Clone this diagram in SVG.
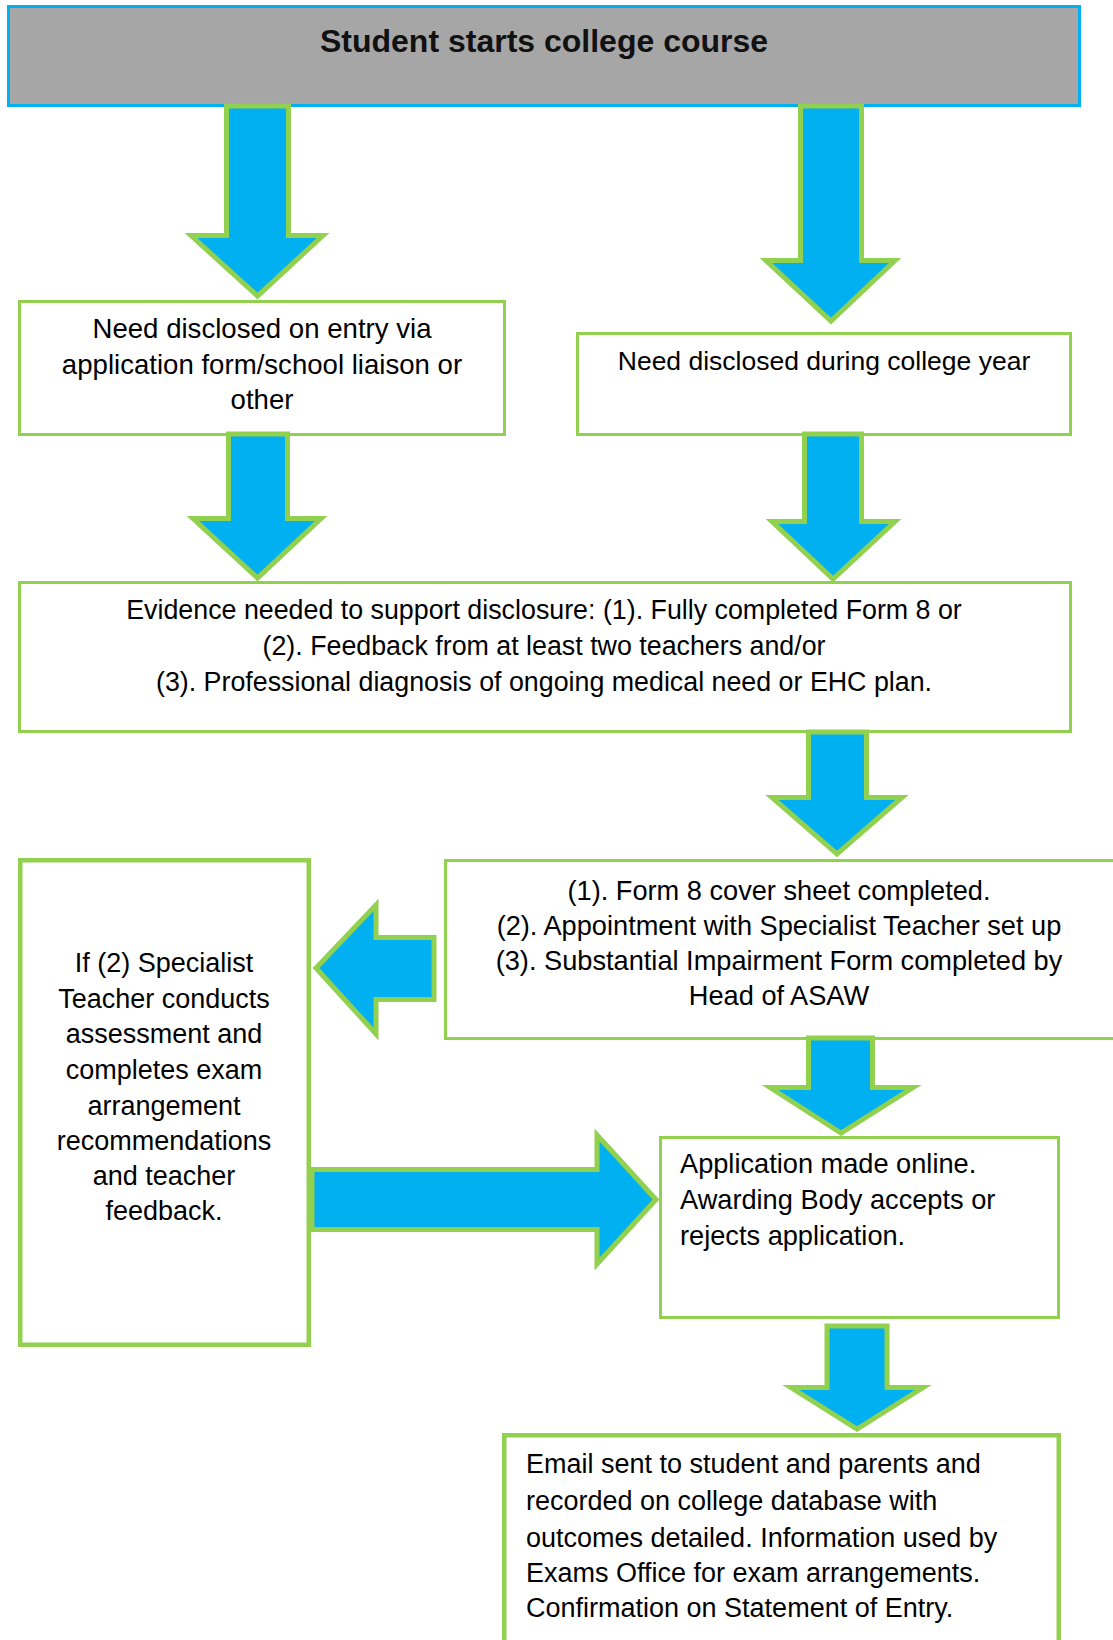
<svg xmlns="http://www.w3.org/2000/svg" width="1113" height="1640" viewBox="0 0 1113 1640">
<style>
.box{fill:#ffffff;stroke:#92D050;stroke-width:3}
.thick{stroke-width:4.5}
.arr{fill:#00B0F0;stroke:#92D050;stroke-width:5;stroke-linejoin:miter;stroke-miterlimit:10}
text{font-family:"Liberation Sans",Arial,sans-serif;font-size:26.5px;fill:#000000}
.c{text-anchor:middle}
.big{font-size:27px}
.f1{font-size:27.6px}
.f2{font-size:27.2px}
.f3{font-size:26.8px}
.title{font-size:32px;font-weight:bold;fill:#111111}
</style>
<rect width="1113" height="1640" fill="#ffffff"/>
<g id="header">
<rect x="8.5" y="6.5" width="1071" height="99" fill="#A6A6A6" stroke="#00B0F0" stroke-width="3"/>
<text class="title c" x="544" y="52">Student starts college course</text>
</g>
<g id="node-entry">
<rect class="box" x="19.5" y="301.5" width="485" height="133"/>
<text class="c f1" x="262" y="338">Need disclosed on entry via</text>
<text class="c f1" x="262" y="374">application form/school liaison or</text>
<text class="c f1" x="262" y="409">other</text>
</g>
<g id="node-during">
<rect class="box" x="577.5" y="333.5" width="493" height="101"/>
<text class="c" x="824" y="370">Need disclosed during college year</text>
</g>
<g id="node-evidence">
<rect class="box" x="19.5" y="582.5" width="1051" height="149"/>
<text class="c f3" x="544" y="619">Evidence needed to support disclosure: (1). Fully completed Form 8 or</text>
<text class="c f3" x="544" y="655">(2). Feedback from at least two teachers and/or</text>
<text class="c f3" x="544" y="691">(3). Professional diagnosis of ongoing medical need or EHC plan.</text>
</g>
<g id="node-form8">
<rect class="box" x="445.5" y="860.5" width="700" height="178"/>
<text class="c f2" x="779" y="900">(1). Form 8 cover sheet completed.</text>
<text class="c f2" x="779" y="935">(2). Appointment with Specialist Teacher set up</text>
<text class="c f2" x="779" y="970">(3). Substantial Impairment Form completed by</text>
<text class="c f2" x="779" y="1005">Head of ASAW</text>
</g>
<g id="node-specialist">
<rect class="box thick" x="20.25" y="860.25" width="288.5" height="484.5"/>
<text class="c big" x="164" y="972">If (2) Specialist</text>
<text class="c big" x="164" y="1008">Teacher conducts</text>
<text class="c big" x="164" y="1043">assessment and</text>
<text class="c big" x="164" y="1079">completes exam</text>
<text class="c big" x="164" y="1115">arrangement</text>
<text class="c big" x="164" y="1150">recommendations</text>
<text class="c big" x="164" y="1185">and teacher</text>
<text class="c big" x="164" y="1220">feedback.</text>
</g>
<g id="node-application">
<rect class="box" x="660.5" y="1137.5" width="398" height="180"/>
<text class="f2" x="680" y="1173">Application made online.</text>
<text class="f2" x="680" y="1209">Awarding Body accepts or</text>
<text class="f2" x="680" y="1245">rejects application.</text>
</g>
<g id="node-email">
<rect class="box thick" x="504.25" y="1435.25" width="554.5" height="250"/>
<text class="big" x="526" y="1473">Email sent to student and parents and</text>
<text class="big" x="526" y="1510">recorded on college database with</text>
<text class="big" x="526" y="1547">outcomes detailed. Information used by</text>
<text class="big" x="526" y="1582">Exams Office for exam arrangements.</text>
<text class="big" x="526" y="1617">Confirmation on Statement of Entry.</text>
</g>
<g id="connectors">
<polygon class="arr" points="226.5,106 288.5,106 288.5,235.5 323,235.5 257.5,296 191,235.5 226.5,235.5"/>
<polygon class="arr" points="800.5,106 861.5,106 861.5,260.5 895,260.5 831,321 766,260.5 800.5,260.5"/>
<polygon class="arr" points="228.5,434 287.5,434 287.5,518.5 321,518.5 257.5,578 193,518.5 228.5,518.5"/>
<polygon class="arr" points="804.5,434 861.5,434 861.5,521.5 895,521.5 833,579 772,521.5 804.5,521.5"/>
<polygon class="arr" points="808.5,732 866.5,732 866.5,797.5 902,797.5 837,854 772,797.5 808.5,797.5"/>
<polygon class="arr" points="434,937.5 376,937.5 376,905 316,968 376,1034 376,999.5 434,999.5"/>
<polygon class="arr" points="312,1169.5 597,1169.5 597,1135 656,1199.5 597,1264 597,1229.5 312,1229.5"/>
<polygon class="arr" points="808.5,1038 872.5,1038 872.5,1087.5 913,1087.5 841,1133 770,1087.5 808.5,1087.5"/>
<polygon class="arr" points="827,1326 887,1326 887,1387.5 923,1387.5 857,1429 791,1387.5 827,1387.5"/>
</g>
</svg>
